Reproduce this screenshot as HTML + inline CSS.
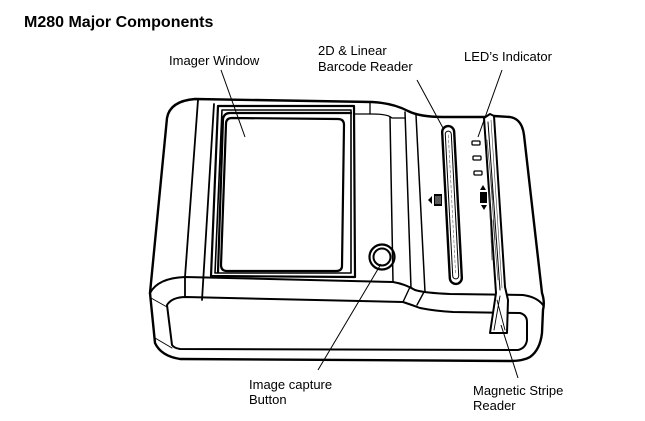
<!DOCTYPE html>
<html>
<head>
<meta charset="utf-8">
<style>
  html, body { margin:0; padding:0; background:#fff; }
  body { width:645px; height:421px; overflow:hidden; }
  svg { display:block; }
  text { font-family: "Liberation Sans", Arial, sans-serif; fill:#000; }
</style>
</head>
<body>
<svg width="645" height="421" viewBox="0 0 645 421" xmlns="http://www.w3.org/2000/svg">
  <rect width="645" height="421" fill="#fff"/>

  <!-- Title -->
  <text x="24" y="27" font-size="16" font-weight="bold">M280 Major Components</text>

  <!-- Labels -->
  <text x="169" y="65" font-size="13">Imager Window</text>
  <text x="318" y="55" font-size="13">2D &amp; Linear</text>
  <text x="318" y="71" font-size="13">Barcode Reader</text>
  <text x="464" y="61" font-size="13">LED’s Indicator</text>
  <text x="249" y="389" font-size="13">Image capture</text>
  <text x="249" y="404" font-size="13">Button</text>
  <text x="473" y="395" font-size="13">Magnetic Stripe</text>
  <text x="473" y="410" font-size="13">Reader</text>

  <g fill="none" stroke="#000" stroke-linejoin="round" stroke-linecap="round">
    <!-- outer silhouette top/left -->
    <path d="M150,293 L167,118 Q170,101 195,99 L372,102 Q393,103 408,111 Q420,117 443,117 L485,117" stroke-width="2.4"/>
    <!-- housing + base outline -->
    <path d="M494,116 L510,117 Q522,119 524,135 L542,293 Q545,302 543,310 L542,333 Q540,350 530,357 Q523,361 510,361 L180,359 Q161,356 155,343 L150,293" stroke-width="2.4"/>

    <!-- shoulder line -->
    <path d="M150,293 Q158,278 185,277 L393,282 Q405,284 415,290 Q425,293 450,294 L523,295 Q537,297 543,305" stroke-width="2"/>
    <!-- lower inner contour -->
    <path d="M167,305 Q172,297 186,297 L403,302 Q412,305 420,308 Q435,311 453,312 L520,313 Q527,315 527,322 L527,340 Q526,348 518,350 L180,349 Q174,348 172,345 Z" stroke-width="2"/>
    <!-- corner diagonals -->
    <path d="M151,298 L167,307 M155,338 L172,348" stroke-width="1"/>
    <!-- chamfer lines -->
    <path d="M403,302 L410,287 M417,305 L424,292" stroke-width="1.4"/>

    <!-- left side panel lines -->
    <path d="M198,100 L185,277 L185,297" stroke-width="1.8"/>
    <path d="M214,104 L202,300" stroke-width="1.8"/>

    <!-- imager frame -->
    <path d="M218,106 L354,106 L355,277 L211,276 Z" stroke-width="2.2"/>
    <path d="M222,110 L351,110 L351,273 L215,273 Z" stroke-width="1.6"/>
    <!-- window outer band -->
    <path d="M351,113 L230,113 Q224,113 223,119 L218,272" stroke-width="2.2"/>
    <!-- window -->
    <path d="M232,118 L338,119 Q344,119 344,125 L342,266 Q342,271 336,271 L227,271 Q221,271 221,265 L226,124 Q226,118 232,118 Z" stroke-width="2.2"/>

    <!-- right of frame -->
    <path d="M354,114 L372,114 Q388,114 392,118 L405,118" stroke-width="1.3"/>
    <path d="M370,102 L370,114" stroke-width="1.3"/>
    <path d="M390,117 L393,282" stroke-width="1.5"/>
    <path d="M405,112 L411,288" stroke-width="1.5"/>
    <path d="M416,115 L425,292" stroke-width="1.5"/>

    <!-- button -->
    <circle cx="382" cy="257" r="12.5" stroke-width="2.2"/>
    <circle cx="382" cy="257" r="8.5" stroke-width="2"/>

    <!-- barcode slot -->
    <g transform="translate(452,205) rotate(-3)">
      <rect x="-6" y="-79" width="12" height="158" rx="6" stroke-width="2.4"/>
      <rect x="-3" y="-74" width="6" height="148" rx="3" stroke-width="1"/>
      <line x1="0" y1="-70" x2="0" y2="70" stroke-width="0.6" stroke="#666" stroke-dasharray="3 2"/>
    </g>

    <!-- LEDs -->
    <rect x="472" y="141" width="8" height="4" rx="1" stroke-width="1.3"/>
    <rect x="473" y="156" width="8" height="4" rx="1" stroke-width="1.3"/>
    <rect x="474" y="171" width="8" height="4" rx="1" stroke-width="1.3"/>

    <!-- magnetic stripe band -->
    <path d="M484,118 L490,114 L494,116 L505,287 L508,300 L507,333 L490,333 L496,293 Z" fill="#fff" stroke-width="2"/>
    <path d="M488,122 L500,290" stroke-width="1"/>
    <path d="M491,120 L502,288" stroke-width="0.6" stroke="#444"/>
    <path d="M487,140 L493,200 M490,170 L495,240 M493,220 L498,280 M489,190 L492,260" stroke-width="0.7" stroke="#444"/>
    <path d="M497,300 L505,330 M500,296 L494,330" stroke-width="0.9"/>
  </g>

  <!-- icons -->
  <polygon points="428,200 432,196 432,204" fill="#000"/>
  <rect x="434" y="194" width="8" height="12" fill="#000"/>
  <path d="M436,196 L436,204 M438,196 L438,204 M440,196 L440,204" stroke="#fff" stroke-width="0.7"/>
  <polygon points="483,185 480,190 486,190" fill="#000"/>
  <rect x="480" y="192" width="7" height="11" fill="#000"/>
  <polygon points="484,210 481,205 487,205" fill="#000"/>

  <!-- leader lines -->
  <g stroke="#000" stroke-width="1" fill="none">
    <line x1="221" y1="70" x2="245" y2="137"/>
    <line x1="417" y1="80" x2="443" y2="128"/>
    <line x1="502" y1="70" x2="478" y2="137"/>
    <line x1="318" y1="370" x2="381" y2="264"/>
    <line x1="501" y1="325" x2="518" y2="378"/>
  </g>
</svg>
</body>
</html>
